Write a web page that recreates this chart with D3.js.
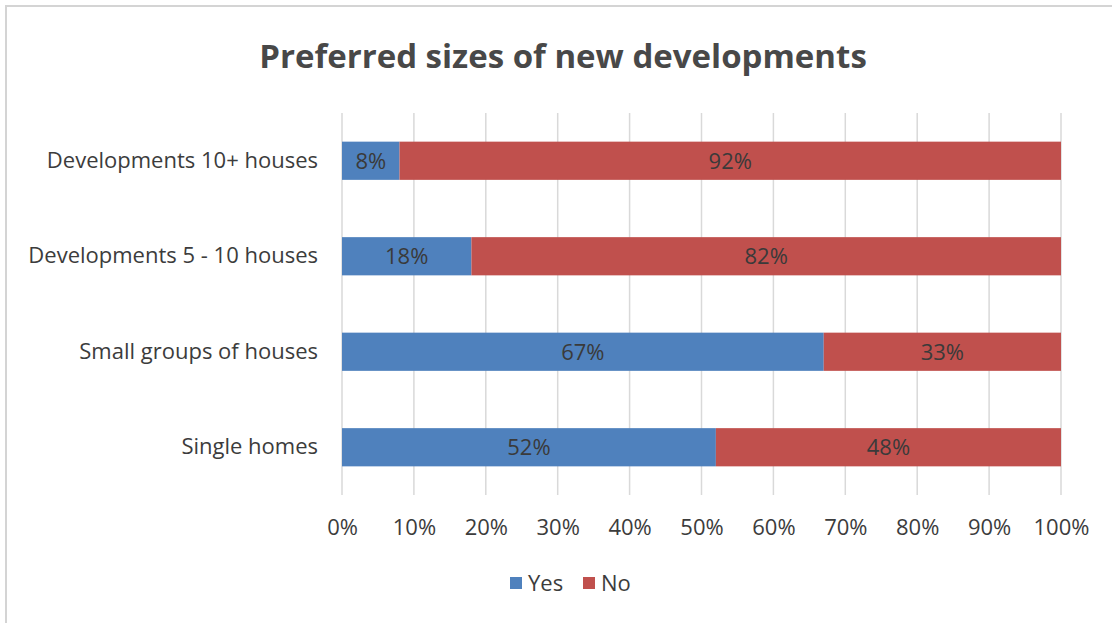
<!DOCTYPE html>
<html>
<head>
<meta charset="utf-8">
<script src="https://cdn.jsdelivr.net/npm/d3@7"></script>
<style>
  html, body { margin: 0; padding: 0; background: #fff; }
  svg { display: block; }
  text { font-family: "Open Sans", Lato, sans-serif; }
</style>
</head>
<body>
<svg id="chart" width="1112" height="623"></svg>
<script>
// Survey answers: share of respondents saying Yes / No for each development size
const categories = [
  "Developments 10+ houses",
  "Developments 5 - 10 houses",
  "Small groups of houses",
  "Single homes"
];
const yesValues = [8, 18, 67, 52];
const noValues  = [92, 82, 33, 48];
const seriesNames = ["Yes", "No"];
const tickValues = [0, 10, 20, 30, 40, 50, 60, 70, 80, 90, 100];

const colors = { Yes: "#4f81bd", No: "#c0504d" };
const FONT = "'Open Sans', Lato, sans-serif";
const TEXT_SIZE = 22;

const svg = d3.select("#chart");
const W = 1112, H = 623;
const plot = { left: 342, right: 1061, top: 113, bottom: 495 };

// Chart frame
svg.append("rect")
  .attr("x", 6).attr("y", 6)
  .attr("width", W + 10).attr("height", H + 10)
  .attr("fill", "#fff")
  .attr("stroke", "#d4d4d4")
  .attr("stroke-width", 2);

// Title
svg.append("text")
  .attr("x", 563).attr("y", 68)
  .attr("text-anchor", "middle")
  .attr("font-size", 33)
  .attr("font-weight", 700)
  .attr("fill", "#484848")
  .text("Preferred sizes of new developments");

const x = d3.scaleLinear().domain([0, 100]).range([plot.left, plot.right]);
const y = d3.scaleBand()
  .domain(categories)
  .range([plot.top, plot.bottom])
  .paddingInner(0.6)
  .paddingOuter(0.3);

// Vertical gridlines
svg.append("g")
  .selectAll("line")
  .data(tickValues)
  .join("line")
  .attr("x1", d => x(d)).attr("x2", d => x(d))
  .attr("y1", plot.top).attr("y2", plot.bottom)
  .attr("stroke", "#d9d9d9")
  .attr("stroke-width", 1.5);

// Stacked rows
const rows = categories.map((c, i) => ({ category: c, Yes: yesValues[i], No: noValues[i] }));
const stacked = d3.stack().keys(seriesNames)(rows);

const layers = svg.append("g")
  .selectAll("g")
  .data(stacked)
  .join("g")
  .attr("fill", d => colors[d.key]);

layers.selectAll("rect")
  .data(d => d)
  .join("rect")
  .attr("x", d => x(d[0]))
  .attr("width", d => x(d[1]) - x(d[0]))
  .attr("y", d => y(d.data.category))
  .attr("height", y.bandwidth());

// Value labels centred in each segment
layers.selectAll("text")
  .data(d => d.map(s => ({ s, key: d.key })))
  .join("text")
  .attr("x", d => (x(d.s[0]) + x(d.s[1])) / 2)
  .attr("y", d => y(d.s.data.category) + y.bandwidth() / 2)
  .attr("dy", "0.36em")
  .attr("text-anchor", "middle")
  .attr("font-size", TEXT_SIZE)
  .attr("fill", "#3a3a3a")
  .text(d => d.s.data[d.key] + "%");

// Category axis
const yAxis = svg.append("g")
  .attr("transform", `translate(${plot.left},0)`)
  .call(d3.axisLeft(y).tickSize(0).tickPadding(24));
yAxis.select(".domain").remove();
yAxis.selectAll("text")
  .attr("font-size", TEXT_SIZE)
  .attr("fill", "#3c3c3c")
  .style("font-family", FONT);

// Percentage axis
const xAxis = svg.append("g")
  .attr("transform", `translate(0,${plot.bottom})`)
  .call(d3.axisBottom(x).tickValues(tickValues).tickFormat(d => d + "%").tickSize(0).tickPadding(24));
xAxis.select(".domain").remove();
xAxis.selectAll("text")
  .attr("font-size", TEXT_SIZE)
  .attr("fill", "#3c3c3c")
  .style("font-family", FONT);

// Legend
const legend = svg.append("g").attr("transform", "translate(510,583)");
const legendItems = legend.selectAll("g")
  .data(seriesNames)
  .join("g")
  .attr("transform", (d, i) => `translate(${i * 73},0)`);
legendItems.append("rect")
  .attr("x", 0).attr("y", -6)
  .attr("width", 12).attr("height", 12)
  .attr("fill", d => colors[d]);
legendItems.append("text")
  .attr("x", 18).attr("y", 0)
  .attr("dy", "0.36em")
  .attr("font-size", TEXT_SIZE)
  .attr("fill", "#3c3c3c")
  .text(d => d);
</script>
</body>
</html>
